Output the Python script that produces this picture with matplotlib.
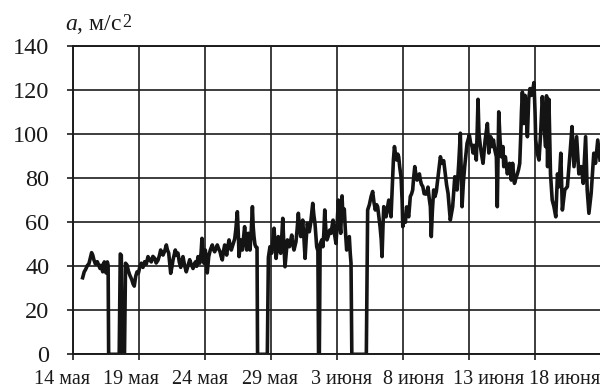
import matplotlib
matplotlib.use("Agg")
import matplotlib.pyplot as plt
import matplotlib.transforms as mtransforms

plt.rcParams['font.family'] = ['Liberation Serif', 'DejaVu Sans']
plt.rcParams['mathtext.fontset'] = 'custom'
plt.rcParams['mathtext.rm'] = 'Liberation Serif'
plt.rcParams['mathtext.it'] = 'Liberation Serif:italic'

# time in days since 14 May, acceleration in m/s^2
days = [
    0.73, 0.85, 0.95, 1.1, 1.2, 1.3, 1.41, 1.5, 1.58, 1.7, 1.84, 1.95, 2.05, 2.15, 2.25, 2.37, 2.5, 2.6, 2.66,
    2.70, 3.50, 3.58, 3.66, 3.72, 3.90, 3.98, 4.1, 4.19, 4.3, 4.45, 4.55, 4.64, 4.75, 4.85, 4.95, 5.07,
    5.17, 5.3, 5.43, 5.55, 5.68, 5.8, 5.93, 6.05, 6.19, 6.3, 6.44, 6.55, 6.64, 6.72, 6.82, 6.95, 7.07, 7.15,
    7.25, 7.33, 7.4, 7.5, 7.58, 7.68, 7.75, 7.85, 7.95, 8.05, 8.16, 8.25, 8.33, 8.45, 8.58, 8.7, 8.84, 8.95,
    9.09, 9.18, 9.27, 9.37, 9.47, 9.55, 9.6, 9.7, 9.77, 9.85, 9.92, 10.02, 10.1, 10.17, 10.28, 10.4, 10.55,
    10.65, 10.73, 10.83, 10.93, 11.03, 11.14, 11.22, 11.31, 11.4, 11.49, 11.57, 11.64, 11.73, 11.82, 11.9,
    11.99, 12.07, 12.14, 12.25, 12.33, 12.45, 12.52, 12.58, 12.65, 12.7, 12.77, 12.83, 12.92, 13.0, 13.08,
    13.16, 13.22, 13.28, 13.35, 13.41, 13.5, 13.59, 13.65, 13.71, 13.78, 13.84, 13.94, 13.98, 14.72, 14.8,
    14.92, 15.04, 15.13, 15.23, 15.3, 15.38, 15.47, 15.55, 15.63, 15.73, 15.8, 15.89, 15.97, 16.06, 16.15,
    16.24, 16.32, 16.39, 16.48, 16.57, 16.65, 16.74, 16.82, 16.89, 16.98, 17.07, 17.15, 17.25, 17.33, 17.4,
    17.5, 17.58, 17.66, 17.75, 17.83, 17.9, 18.0, 18.08, 18.16, 18.25, 18.33, 18.4, 18.46, 18.55, 18.6,
    18.66, 18.72, 18.84, 18.93, 19.0, 19.07, 19.15, 19.24, 19.35, 19.45, 19.55, 19.62, 19.7, 19.8, 19.92,
    20.0, 20.1, 20.2, 20.28, 20.38, 20.45, 20.55, 20.63, 20.73, 20.83, 20.93, 21.0, 21.06, 21.12, 22.22,
    22.32, 22.45, 22.58, 22.7, 22.8, 22.9, 23.0, 23.08, 23.18, 23.26, 23.35, 23.41, 23.48, 23.54, 23.62,
    23.71, 23.8, 23.92, 24.0, 24.09, 24.18, 24.27, 24.35, 24.45, 24.52, 24.6, 24.67, 24.75, 24.85, 24.93,
    24.98, 25.05, 25.18, 25.27, 25.35, 25.43, 25.55, 25.65, 25.73, 25.8, 25.89, 25.97, 26.06, 26.15, 26.24,
    26.32, 26.39, 26.5, 26.6, 26.74, 26.82, 26.89, 26.98, 27.07, 27.14, 27.22, 27.32, 27.42, 27.52, 27.65,
    27.75, 27.83, 27.95, 28.08, 28.2, 28.3, 28.41, 28.5, 28.58, 28.67, 28.76, 28.85, 28.92, 29.0, 29.09,
    29.15, 29.22, 29.34, 29.42, 29.47, 29.57, 29.67, 29.77, 29.85, 29.95, 30.02, 30.12, 30.23, 30.3, 30.38,
    30.45, 30.55, 30.62, 30.68, 30.75, 30.85, 30.93, 31.06, 31.15, 31.22, 31.32, 31.39, 31.5, 31.64, 31.75,
    31.85, 31.95, 32.07, 32.14, 32.25, 32.35, 32.45, 32.57, 32.63, 32.75, 32.9, 32.98, 33.07, 33.2, 33.3,
    33.44, 33.55, 33.66, 33.75, 33.84, 33.92, 33.97, 34.04, 34.14, 34.24, 34.3, 34.42, 34.52, 34.62, 34.72,
    34.82, 34.92, 35.0, 35.05, 35.17, 35.3, 35.42, 35.55, 35.67, 35.8, 35.87, 35.95, 36.05, 36.17, 36.3,
    36.43, 36.57, 36.7, 36.82, 36.95, 37.07, 37.25, 37.45, 37.65, 37.8, 37.95, 38.15, 38.32, 38.5, 38.65,
    38.83, 38.95, 39.08, 39.25, 39.45, 39.58, 39.75, 39.92,
]
accel = [
    34.8, 37.5, 38.5, 40.5, 41.0, 43.5, 46.2, 45.0, 43.0, 41.0, 42.1, 40.5, 39.0, 40.5, 37.5, 42.0, 37.0, 42.0, 40.5,
    0, 0, 45.6, 45.0, 0, 0, 41.4, 40.5, 38.0, 36.0, 34.0, 32.0, 31.0, 35.5, 37.5, 36.8, 40.0,
    41.4, 39.5, 42.1, 41.0, 44.4, 43.0, 42.0, 44.5, 43.6, 41.5, 42.8, 45.0, 47.4, 46.0, 45.1, 47.0, 49.7, 47.5,
    46.0, 41.0, 36.8, 40.0, 43.0, 45.5, 47.4, 45.0, 46.0, 42.0, 39.5, 42.5, 44.4, 40.5, 37.5, 40.0, 43.0, 41.0,
    39.0, 40.5, 42.0, 40.0, 44.4, 42.5, 41.4, 46.0, 52.7, 46.0, 41.4, 47.4, 44.0, 37.0, 44.4, 47.4, 49.7,
    47.5, 46.6, 48.0, 49.7, 48.0, 46.6, 44.5, 42.9, 47.0, 49.7, 47.0, 45.1, 49.0, 52.0, 49.5,
    47.4, 49.0, 50.4, 52.5, 56.5, 64.8, 55.0, 44.4, 49.0, 52.0, 49.5, 47.4, 53.0, 58.0, 52.0,
    47.4, 51.0, 55.0, 50.0, 47.4, 56.0, 67.1, 58.0, 53.5, 50.0, 48.9, 48.5, 0, 0, 44.0,
    48.9, 45.9, 51.0, 57.3, 50.0, 43.6, 48.0, 53.5, 49.0, 45.9, 52.0, 61.8, 50.0, 39.8, 46.0,
    52.0, 50.0, 48.9, 51.5, 54.2, 50.0, 47.4, 49.5, 51.2, 57.0, 64.1, 58.0, 53.5, 57.0, 61.0,
    52.0, 43.6, 52.0, 59.5, 57.0, 55.7, 59.5, 64.0, 68.6, 63.0, 59.5, 54.0, 48.9, 47.0, 0,
    0, 50.0, 52.0, 48.9, 55.0, 65.6, 57.0, 52.0, 54.0, 56.5, 55.0, 58.0, 61.0, 55.0, 50.4,
    58.0, 70.1, 60.0, 55.0, 72.0, 62.0, 66.0, 56.5, 47.4, 52.0, 53.5, 46.0, 41.4, 0, 0,
    65.6, 68.0, 71.7, 74.0, 69.0, 65.6, 68.0, 67.0, 62.0, 58.0, 52.0, 44.4, 58.0, 67.1, 64.0,
    62.5, 66.0, 70.1, 66.0, 62.5, 75.0, 88.3, 94.4, 90.0, 88.3, 91.0, 89.8, 85.0, 80.7, 70.0,
    58.0, 62.0, 60.0, 67.0, 64.0, 62.5, 71.7, 73.0, 74.7, 80.0, 85.3, 82.0, 79.2, 80.0, 82.0,
    79.0, 77.3, 76.2, 73.0, 72.8, 74.0, 76.0, 71.0, 67.1, 53.5, 65.0, 74.7, 71.7, 74.0, 80.7,
    86.0, 89.8, 86.8, 88.0, 82.0, 77.0, 73.2, 67.0, 61.0, 64.0, 67.1, 75.0, 80.7, 78.0, 74.7,
    80.0, 86.8, 100.5, 80.0, 67.1, 78.0, 85.3, 91.0, 95.9, 98.0, 99.7, 96.0, 94.4, 91.5, 95.0,
    93.0, 88.3, 102.0, 115.9, 100.5, 95.0, 91.5, 86.8, 93.0, 97.4, 102.0, 104.9, 91.5, 98.9, 94.4,
    97.4, 93.0, 89.8, 67.1, 110.2, 97.4, 89.8, 94.4, 85.3, 89.8, 82.0, 84.0, 86.8, 79.2, 86.8,
    77.7, 80.0, 82.0, 84.0, 86.8, 100.0, 110.2, 119.2, 104.9, 117.7, 112.0, 98.9, 116.2, 120.8, 117.7,
    120.0, 123.5, 110.0, 97.4, 91.4, 88.3, 100.0, 117.1, 104.9, 94.4, 117.5, 85.3, 115.9, 82.0, 70.1,
    67.1, 62.5, 82.0, 76.2, 91.4, 65.6, 74.7, 76.2, 91.4, 103.5, 85.3, 98.9, 82.0, 85.3, 77.7,
    98.9, 74.7, 64.1, 73.2, 91.4, 86.8, 97.4, 88.3,
]

y_ticks = [0, 20, 40, 60, 80, 100, 120, 140]
x_grid_days = [0, 5, 10, 15, 20, 25, 30, 35]
x_tick_labels = ['14 мая', '19 мая', '24 мая', '29 мая', '3 июня', '8 июня', '13 июня', '18 июня']
# label centres (in days) as typeset in the original figure
label_days = [-0.83, 4.39, 9.62, 14.92, 20.38, 25.76, 31.52, 37.27]

fig = plt.figure(figsize=(6, 3.88), dpi=100)
ax = fig.add_axes([73 / 600, 33.7 / 388, 527 / 600, 308 / 388])

ax.plot(days, accel, color='#141414', lw=2.6, solid_joinstyle='round')

ax.set_xlim(0, 39.92)
ax.set_ylim(0, 140)
ax.set_xticks(x_grid_days)
ax.set_xticklabels([])
ax.set_yticks(y_ticks)
ax.set_yticklabels([str(v) for v in y_ticks])
ax.grid(True, color='#1c1c1c', lw=1.2)
ax.set_axisbelow(True)

for s in ['left', 'bottom', 'top']:
    ax.spines[s].set_color('#1c1c1c')
    ax.spines[s].set_linewidth(1.4)
ax.spines['right'].set_visible(False)

ax.tick_params(axis='x', length=4, width=1.2, color='#1c1c1c', direction='out')
ax.tick_params(axis='y', length=4, width=1.2, color='#1c1c1c', direction='out',
               labelsize=17.5, pad=13, labelcolor='#1a1a1a')

trans = mtransforms.blended_transform_factory(ax.transData, ax.transAxes)
for lbl, d in zip(x_tick_labels, label_days):
    ax.text(d, -0.098, lbl, transform=trans, ha='center', va='baseline',
            fontsize=14.5, color='#1a1a1a', clip_on=False)

t = fig.text(65 / 600, (388 - 30) / 388, r'$a$, м/с', fontsize=17,
             color='#1a1a1a', ha='left', va='baseline')
fig.canvas.draw()
bb = t.get_window_extent()
fig.text(bb.x1 / 600 + 0.001, (388 - 27) / 388, '2', fontsize=13,
         color='#1a1a1a', ha='left', va='baseline')

fig.savefig('out.png', dpi=100)
